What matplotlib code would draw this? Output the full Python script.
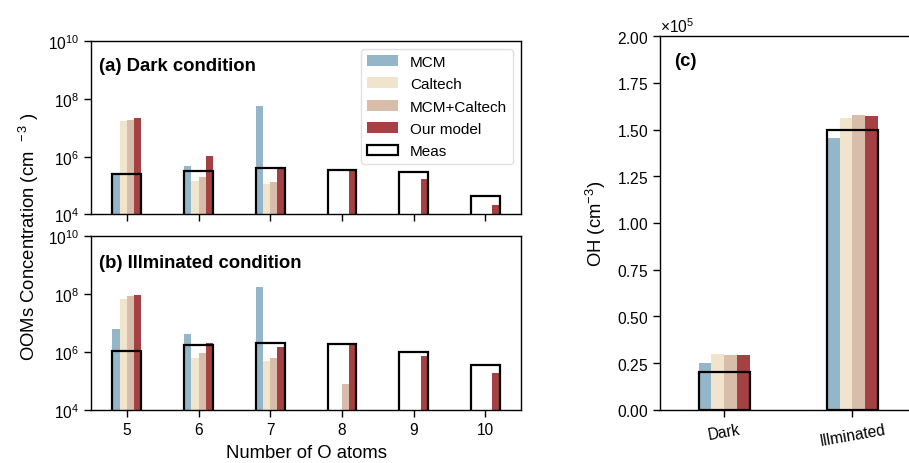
import numpy as np
import matplotlib.pyplot as plt
from matplotlib.ticker import FixedLocator, NullLocator, ScalarFormatter

plt.rcParams['font.family'] = ['Liberation Sans', 'DejaVu Sans']
plt.rcParams['mathtext.fontset'] = 'custom'
plt.rcParams['mathtext.rm'] = 'Liberation Sans'
plt.rcParams['mathtext.it'] = 'Liberation Sans:italic'
plt.rcParams['mathtext.bf'] = 'Liberation Sans:bold'
plt.rcParams['axes.linewidth'] = 1.0

nan = np.nan

# nombre d'atomes O
n_oxygen = [5, 6, 7, 8, 9, 10]

# (a) condition sombre
dark_mcm = [2.4e5, 4.6e5, 5.7e7, nan, nan, nan]
dark_caltech = [1.7e7, 1.45e5, 1.15e5, nan, nan, nan]
dark_mcm_caltech = [1.9e7, 2.0e5, 1.3e5, nan, nan, nan]
dark_ours = [2.2e7, 1.07e6, 3.9e5, 3.4e5, 1.7e5, 2.1e4]
dark_meas = [2.6e5, 3.1e5, 4.0e5, 3.5e5, 2.9e5, 4.3e4]

# (b) condition illuminee
ill_mcm = [6.1e6, 4.3e6, 1.7e8, nan, nan, nan]
ill_caltech = [6.9e7, 6.3e5, 4.9e5, nan, nan, nan]
ill_mcm_caltech = [8.7e7, 9.3e5, 6.2e5, 7.9e4, nan, nan]
ill_ours = [8.9e7, 2.0e6, 1.5e6, 1.8e6, 7.4e5, 1.9e5]
ill_meas = [1.05e6, 1.8e6, 2.1e6, 1.9e6, 1.0e6, 3.7e5]

# (c) OH
oh_cases = ['Dark', 'Illminated']
oh_mcm = [0.248e5, 1.457e5]
oh_caltech = [0.296e5, 1.564e5]
oh_mcm_caltech = [0.295e5, 1.580e5]
oh_ours = [0.291e5, 1.573e5]
oh_meas = [0.200e5, 1.500e5]

model_names = ['MCM', 'Caltech', 'MCM+Caltech', 'Our model']
model_colors = ['#94b6c8', '#f0e4cc', '#d8beaa', '#a54043']
offsets = [-0.15, -0.05, 0.05, 0.15]
w = 0.1
tick_fs = 11.2
lab_fs = 13.3

def draw_groups(ax, x, series, meas):
    x = np.asarray(x, dtype=float)
    for k in range(4):
        ax.bar(x + offsets[k], series[k], w, color=model_colors[k],
               label=model_names[k], zorder=2)
    ax.bar(x, meas, 0.4, facecolor='none', edgecolor='black',
           linewidth=1.6, label='Meas', zorder=3)

fig = plt.figure(figsize=(9.09, 4.64), dpi=100)
axa = fig.add_axes([0.1001, 0.5356, 0.4731, 0.3739])
axb = fig.add_axes([0.1001, 0.1142, 0.4731, 0.3750])
axc = fig.add_axes([0.7261, 0.1149, 0.2822, 0.8047])

draw_groups(axa, n_oxygen, [dark_mcm, dark_caltech, dark_mcm_caltech, dark_ours], dark_meas)
draw_groups(axb, n_oxygen, [ill_mcm, ill_caltech, ill_mcm_caltech, ill_ours], ill_meas)

for ax in (axa, axb):
    ax.set_yscale('log')
    ax.set_ylim(1e4, 1e10)
    ax.set_xlim(4.5, 10.5)
    ax.yaxis.set_major_locator(FixedLocator([1e4, 1e6, 1e8, 1e10]))
    ax.yaxis.set_minor_locator(NullLocator())
    ax.set_xticks(n_oxygen)
    ax.tick_params(labelsize=tick_fs, width=1.0, length=5)

axa.set_xticklabels([])
axb.set_xticklabels([str(v) for v in n_oxygen])
axb.set_xlabel('Number of O atoms', fontsize=lab_fs, labelpad=5)

axa.text(0.018, 0.857, '(a) Dark condition', transform=axa.transAxes,
         fontsize=lab_fs, fontweight='bold', va='center')
axb.text(0.018, 0.85, '(b) Illminated condition', transform=axb.transAxes,
         fontsize=lab_fs, fontweight='bold', va='center')

axa.legend(loc='upper right', fontsize=11, edgecolor='0.85', labelspacing=0.55)

fig.text(0.032, 1 - 237 / 464, r'OOMs Concentration (cm$^{\ \ -3}$ )', rotation=90,
         fontsize=lab_fs, ha='center', va='center')

# panneau OH
draw_groups(axc, [0, 1], [oh_mcm, oh_caltech, oh_mcm_caltech, oh_ours], oh_meas)
axc.set_xlim(-0.5, 1.5)
axc.set_ylim(0, 2e5)
axc.set_yticks(np.arange(0, 2.01e5, 0.25e5))
fmt = ScalarFormatter(useMathText=True)
fmt.set_powerlimits((0, 0))
axc.yaxis.set_major_formatter(fmt)
axc.yaxis.get_offset_text().set_fontsize(tick_fs)
axc.set_xticks([0, 1])
axc.set_xticklabels(oh_cases, rotation=10)
axc.tick_params(labelsize=tick_fs, width=1.0, length=5)
axc.set_ylabel('OH (cm$^{-3}$)', fontsize=lab_fs, labelpad=6)
axc.text(0.055, 0.936, '(c)', transform=axc.transAxes,
         fontsize=lab_fs, fontweight='bold', va='center')

fig.savefig('out.png', dpi=100)
